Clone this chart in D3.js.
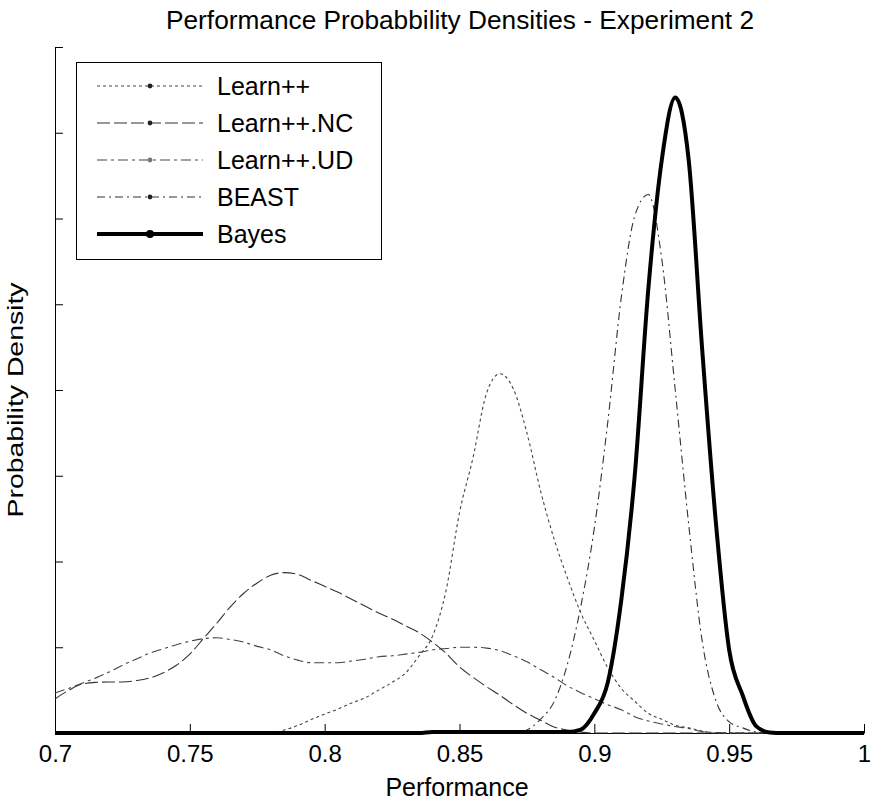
<!DOCTYPE html>
<html><head><meta charset="utf-8">
<script src="https://cdn.jsdelivr.net/npm/d3@7"></script>
<style>
body{margin:0;background:#fff}
svg{display:block}
text{font-family:Arial,"Liberation Sans",Helvetica,sans-serif;fill:#000}
</style>
</head><body>
<svg id="chart" width="873" height="802"></svg>
<script>
// ---------------- data ----------------
const performance = [
0.700,0.705,0.710,0.715,0.720,0.725,0.730,0.735,0.740,0.745,
0.750,0.755,0.760,0.765,0.770,0.775,0.780,0.785,0.790,0.795,
0.800,0.805,0.810,0.815,0.820,0.825,0.830,0.835,0.840,0.845,
0.850,0.855,0.860,0.865,0.870,0.875,0.880,0.885,0.890,0.895,
0.900,0.905,0.910,0.915,0.920,0.925,0.930,0.935,0.940,0.945,
0.950,0.955,0.960,0.965,0.970,0.975,0.980,0.985,0.990,0.995,1.000];

const learnPP = [
0,0,0,0,0,0,0,0,0,0,
0,0,0,0,0,0,0,0.35,0.87,1.57,
2.2,2.8,3.5,4.1,5.0,5.9,7.0,9.0,11.3,16.6,
25.7,32.1,39.6,41.9,40.1,35.0,28.3,22.7,18.1,14.0,
10.8,7.6,5.2,3.7,2.3,1.6,0.9,0.6,0.23,0,
0,0,0,0,0,0,0,0,0,0,0];

const learnNC = [
3.97,4.96,5.7,5.9,5.95,5.95,6.1,6.4,7.0,7.9,
9.2,11.0,12.8,14.7,16.3,17.5,18.4,18.7,18.5,17.8,
17.1,16.4,15.6,14.8,14.0,13.3,12.5,11.7,10.6,9.3,
7.7,6.5,5.4,4.4,3.3,2.3,1.5,0.7,0.35,0.1,
0,0,0,0,0,0,0,0,0,0,
0,0,0,0,0,0,0,0,0,0,0];

const learnUD = [
4.66,5.2,5.8,6.4,7.1,7.9,8.6,9.3,9.8,10.3,
10.7,11.0,11.1,10.9,10.6,10.1,9.7,9.0,8.5,8.2,
8.2,8.2,8.4,8.6,8.9,9.0,9.2,9.4,9.7,9.85,
10.0,10.0,9.9,9.6,9.0,8.3,7.4,6.5,5.5,4.7,
4.0,3.3,2.7,1.9,1.4,1.05,0.76,0.52,0.17,0.06,
0,0,0,0,0,0,0,0,0,0,0];

const beast = [
0,0,0,0,0,0,0,0,0,0,
0,0,0,0,0,0,0,0,0,0,
0,0,0,0,0,0,0,0,0,0,
0,0,0,0,0,0.35,1.6,3.6,8.0,14.8,
23.9,36.3,50.8,60.3,62.8,55.3,40.0,24.3,10.7,3.85,
1.3,0.6,0.12,0,0,0,0,0,0,0,0];

const bayes = [
0,0,0,0,0,0,0,0,0,0,
0,0,0,0,0,0,0,0,0,0,
0,0,0,0,0,0,0,0,0.12,0.12,
0.12,0.12,0.12,0.12,0.12,0.12,0.12,0.12,0.12,0.4,
2.3,5.9,15.5,30.1,51.7,66.8,74.1,66.8,44.7,24.8,
9.7,4.4,0.8,0.06,0,0,0,0,0,0,0];

const seriesNames = ["Learn++","Learn++.NC","Learn++.UD","BEAST","Bayes"];
const seriesValues = [learnPP, learnNC, learnUD, beast, bayes];

const xTicks = [0.7,0.75,0.8,0.85,0.9,0.95,1.0];
const xTickLabels = ["0.7","0.75","0.8","0.85","0.9","0.95","1"];
const yTicks = [0,10,20,30,40,50,60,70,80];

const titleText = "Performance Probabbility Densities - Experiment 2";
const xLabel = "Performance";
const yLabel = "Probability Density";

// ---------------- styles ----------------
const styles = [
  {stroke:"#444", width:1.1, dash:"3,3", r:2.4, mark:"#222"},
  {stroke:"#333", width:1.1, dash:"13,4", r:2.4, mark:"#222"},
  {stroke:"#444", width:1.1, dash:"10,4,3,4", r:2.4, mark:"#777"},
  {stroke:"#333", width:1.1, dash:"8,4,2,4", r:2.4, mark:"#222"},
  {stroke:"#000", width:4, dash:null, r:4, mark:"#000"}
];

// ---------------- layout ----------------
const L = 55, R = 864, T = 47, B = 733;
const svg = d3.select("#chart");

const x = d3.scaleLinear().domain([0.7, 1.0]).range([L, R]);
const y = d3.scaleLinear().domain([0, 80]).range([B, T]);

// title
svg.append("text")
  .attr("x", 460).attr("y", 29)
  .attr("text-anchor", "middle")
  .style("font-size", "25px")
  .attr("textLength", 588).attr("lengthAdjust", "spacingAndGlyphs")
  .text(titleText);

// axes
const xAxis = d3.axisBottom(x)
  .tickValues(xTicks)
  .tickFormat((d, i) => xTickLabels[i])
  .tickSizeInner(-9).tickSizeOuter(0).tickPadding(12);
const gx = svg.append("g").attr("transform", `translate(0,${B})`).call(xAxis);
gx.selectAll("text").style("font-size", "24px");
gx.selectAll("line,path").attr("stroke", "#000");

const yAxis = d3.axisLeft(y)
  .tickValues(yTicks)
  .tickFormat("")
  .tickSizeInner(-8).tickSizeOuter(0);
const gy = svg.append("g").attr("transform", `translate(${L},0)`).call(yAxis);
gy.selectAll("line,path").attr("stroke", "#000");

// axis labels
svg.append("text")
  .attr("x", 457).attr("y", 796)
  .attr("text-anchor", "middle")
  .style("font-size", "25px")
  .text(xLabel);

svg.append("text")
  .attr("transform", "translate(23,400) rotate(-90)")
  .attr("text-anchor", "middle")
  .style("font-size", "22px")
  .attr("textLength", 235).attr("lengthAdjust", "spacingAndGlyphs")
  .text(yLabel);

// curves
const line = d3.line()
  .x((d, i) => x(performance[i]))
  .y(d => y(d))
  .curve(d3.curveMonotoneX);

const plot = svg.append("g");
seriesValues.forEach((vals, k) => {
  const s = styles[k];
  plot.append("path")
    .datum(vals)
    .attr("fill", "none")
    .attr("stroke", s.stroke)
    .attr("stroke-width", s.width)
    .attr("stroke-dasharray", s.dash)
    .attr("stroke-linejoin", "round")
    .attr("d", line);
});

// legend
const lg = svg.append("g");
lg.append("rect")
  .attr("x", 76.5).attr("y", 62.5)
  .attr("width", 305).attr("height", 197)
  .attr("fill", "#fff").attr("stroke", "#000").attr("stroke-width", 1);
const rowY = [86, 123, 160, 197, 234];
seriesNames.forEach((name, k) => {
  const s = styles[k];
  const yy = rowY[k];
  lg.append("line")
    .attr("x1", 97).attr("x2", 203).attr("y1", yy).attr("y2", yy)
    .attr("stroke", s.stroke).attr("stroke-width", s.width)
    .attr("stroke-dasharray", s.dash);
  lg.append("circle")
    .attr("cx", 150).attr("cy", yy).attr("r", s.r)
    .attr("fill", s.mark);
  lg.append("text")
    .attr("x", 217).attr("y", yy + 9)
    .style("font-size", "25px")
    .text(name);
});
</script>
</body></html>
